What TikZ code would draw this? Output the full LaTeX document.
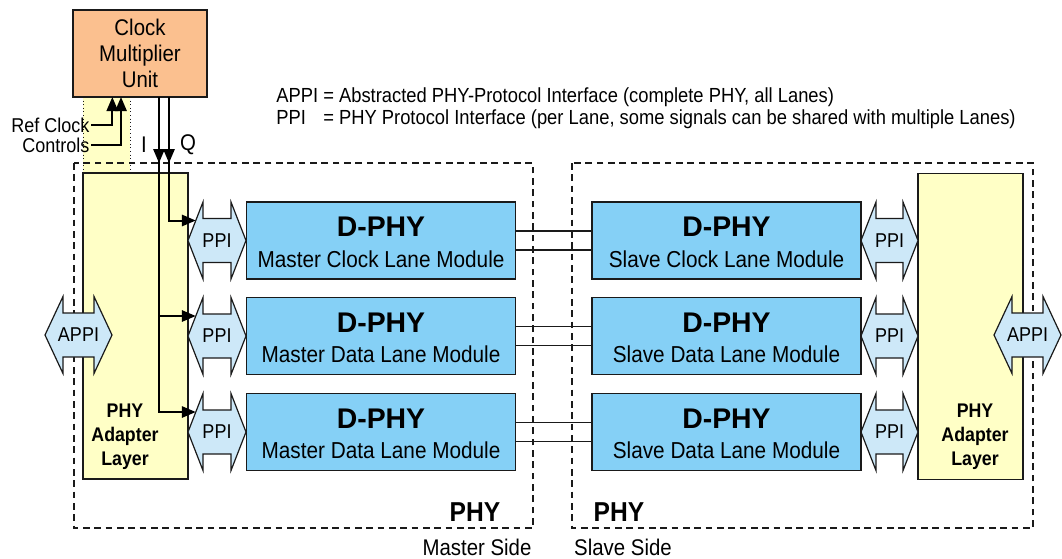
\documentclass[tikz,border=0pt]{standalone}
\usepackage{fontspec}
\setmainfont{Liberation Sans}[FakeStretch=0.9]
\newfontfamily\titlefont{Liberation Sans}
\usetikzlibrary{arrows.meta}
\definecolor{cmuorange}{HTML}{FBC08F}
\definecolor{adaptyellow}{HTML}{FFFFC6}
\definecolor{dphyblue}{HTML}{85D0F6}
\definecolor{ppiblue}{HTML}{CDE8F8}
\definecolor{edge}{HTML}{1A1A1A}
\newcommand\dblarrow[6]{%
  \draw[ppishape] (#2,#4) -- (#2+#5,#4-38.5) -- (#2+#5,#4-22) -- (#3-#5,#4-22) -- (#3-#5,#4-38.5)
     -- (#3,#4) -- (#3-#5,#4+38.5) -- (#3-#5,#4+22) -- (#2+#5,#4+22) -- (#2+#5,#4+38.5) -- cycle;
  \node[ppitext] (#1) at ({(#2+#3)/2},#4) {#6};
  \coordinate (#1-in) at ({#2+0.52*#5},#4-20);
}
\begin{document}
\begin{tikzpicture}[x=0.75pt,y=-0.75pt,
  box/.style={draw=edge,line width=1pt,inner sep=0pt,outer sep=0pt},
  cmubox/.style={box,fill=cmuorange,minimum width=100.5pt,minimum height=65.25pt,align=center,
     font=\fontsize{17}{19.5}\selectfont},
  adapter/.style={box,fill=adaptyellow,minimum width=78.75pt,minimum height=229.5pt},
  adtext/.style={align=center,inner sep=0pt,font=\bfseries\fontsize{14.8}{18}\selectfont},
  dphy/.style={box,fill=dphyblue,minimum width=201.75pt,minimum height=57.75pt},
  title/.style={inner sep=0pt,font=\titlefont\bfseries\fontsize{21.3}{24}\selectfont},
  subtitle/.style={inner sep=0pt,font=\fontsize{17.3}{20}\selectfont},
  ppishape/.style={draw=edge,line width=0.9pt,fill=ppiblue,line join=miter},
  ppitext/.style={inner sep=0pt,font=\fontsize{15}{18}\selectfont},
  phyframe/.style={draw=edge,line width=1pt,dash pattern=on 5pt off 3.5pt},
  dotline/.style={draw=edge,line width=0.7pt,dotted},
  link/.style={draw=edge,line width=1pt},
  wire/.style={draw=black,line width=1.5pt},
  wirearrow/.style={-{Triangle[length=10.5pt,width=8.5pt]}},
  lbl/.style={inner sep=1pt,font=\fontsize{15}{18}\selectfont},
  iq/.style={inner sep=0pt,font=\fontsize{17}{20}\selectfont},
  legend/.style={inner sep=0pt,font=\fontsize{15.3}{18}\selectfont},
  phylbl/.style={inner sep=0pt,font=\bfseries\fontsize{20.5}{24}\selectfont},
  sidelbl/.style={inner sep=0pt,font=\fontsize{17}{20}\selectfont}
]
\useasboundingbox (0,0) rectangle (1062,558);

% dotted yellow area below the clock multiplier
\fill[adaptyellow] (83,97) rectangle (130,173);
\draw[dotline] (83,97) -- (83,173) (130,97) -- (130,173);

% PHY frames
\draw[phyframe] (74,163) rectangle (533,528);
\draw[phyframe] (572,163) rectangle (1033,528);
\coordinate (frtop) at (74,163);

% adapter layers
\node[adapter] (adL) at (135.5,326) {};
\node[adapter] (adR) at (970.5,326.5) {};
\node[adtext] (adLt) at (125,437) {PHY\\Adapter\\Layer};
\node[adtext] (adRt) at (975,437) {PHY\\Adapter\\Layer};

% D-PHY modules
\node[dphy] (m1) at (381,240.5) {};
\node[dphy] (m2) at (381,336) {};
\node[dphy] (m3) at (381,432) {};
\node[dphy] (s1) at (726.5,240.5) {};
\node[dphy] (s2) at (726.5,336) {};
\node[dphy] (s3) at (726.5,432) {};

\node[title] (m1t) at (381,227) {D-PHY};
\node[subtitle] (m1s) at (381,259) {Master Clock Lane Module};
\node[title] (m2t) at (381,323) {D-PHY};
\node[subtitle] (m2s) at (381,354) {Master Data Lane Module};
\node[title] (m3t) at (381,419) {D-PHY};
\node[subtitle] (m3s) at (381,450) {Master Data Lane Module};
\node[title] (s1t) at (726.5,227) {D-PHY};
\node[subtitle] (s1s) at (726.5,259) {Slave Clock Lane Module};
\node[title] (s2t) at (726.5,323) {D-PHY};
\node[subtitle] (s2s) at (726.5,354) {Slave Data Lane Module};
\node[title] (s3t) at (726.5,419) {D-PHY};
\node[subtitle] (s3s) at (726.5,450) {Slave Data Lane Module};

% lane links
\foreach \r in {1,2,3}{
  \draw[link] ([yshift=7.1pt]m\r.east) -- ([yshift=7.1pt]s\r.west);
  \draw[link] ([yshift=-7.1pt]m\r.east) -- ([yshift=-7.1pt]s\r.west);
}

% PPI and APPI interfaces
\dblarrow{pm1}{188}{246}{240.5}{15}{PPI}
\dblarrow{pm2}{188}{246}{336}{15}{PPI}
\dblarrow{pm3}{188}{246}{432}{15}{PPI}
\dblarrow{ps1}{861}{918}{240.5}{15}{PPI}
\dblarrow{ps2}{861}{918}{336}{15}{PPI}
\dblarrow{ps3}{861}{918}{432}{15}{PPI}
\dblarrow{apL}{45}{112}{335}{18}{APPI}
\dblarrow{apR}{994}{1061}{335}{18}{APPI}

% clock multiplier
\node[cmubox] (cmu) at (140,53.5) {Clock\\Multiplier\\Unit};

% reference clock and controls
\node[lbl,anchor=east] (ref) at (91,125) {Ref Clock};
\node[lbl,anchor=east] (ctl) at (91,145) {Controls};
\draw[wire,wirearrow] (ref.east) -| ([xshift=29.5pt]cmu.south west);
\draw[wire,wirearrow] (ctl.east) -| ([xshift=36pt]cmu.south west);

% I and Q clocks
\coordinate (Itop) at ([xshift=64.5pt]cmu.south west);
\coordinate (Qtop) at ([xshift=72pt]cmu.south west);
\draw[wire,wirearrow] (Itop) -- (Itop |- frtop);
\draw[wire,wirearrow] (Qtop) -- (Qtop |- frtop);
\draw[wire,wirearrow] ([yshift=2pt]Qtop |- frtop) |- (pm1-in);
\draw[wire,wirearrow] ([yshift=2pt]Itop |- frtop) |- (pm3-in);
\draw[wire,wirearrow] (Itop |- pm2-in) -- (pm2-in);
\node[iq] (Ilbl) at (144,145) {I};
\node[iq] (Qlbl) at (188,145) {Q};

% legend
\node[legend,anchor=base west] (lg1a) at (276,102) {APPI};
\node[legend,anchor=base west] (lg1b) at (323,102) {= Abstracted PHY-Protocol Interface (complete PHY, all Lanes)};
\node[legend,anchor=base west] (lg2a) at (276,124) {PPI};
\node[legend,anchor=base west] (lg2b) at (323,124) {= PHY Protocol Interface (per Lane, some signals can be shared with multiple Lanes)};

% side labels
\node[phylbl] (phyM) at (475,512) {PHY};
\node[phylbl] (phyS) at (619,512) {PHY};
\node[sidelbl] (msd) at (477,547) {Master Side};
\node[sidelbl] (ssd) at (623,547) {Slave Side};
\end{tikzpicture}
\end{document}
